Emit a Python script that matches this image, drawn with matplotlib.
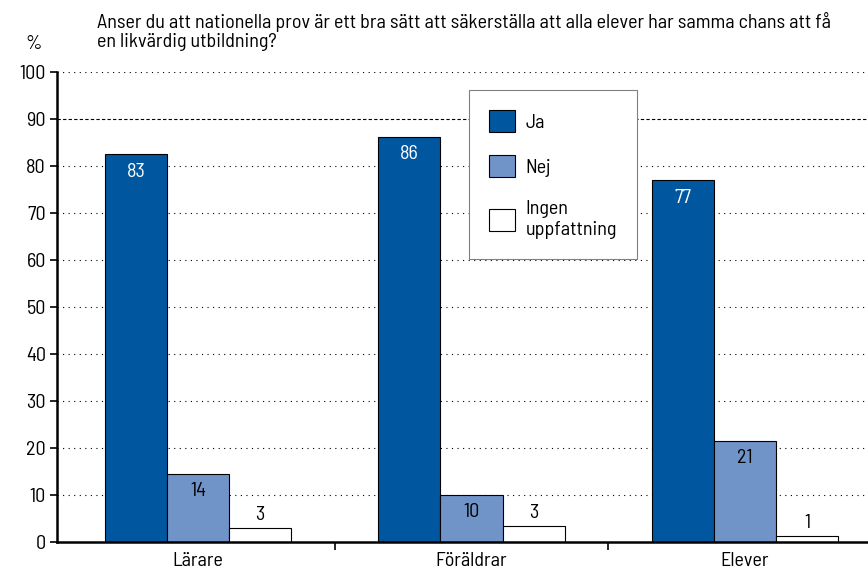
import matplotlib.pyplot as plt
import numpy as np
from matplotlib import font_manager as fm
from matplotlib.patches import Patch

# pick a narrow DIN-like face if one is installed
installed = {f.name for f in fm.fontManager.ttflist}
candidates = ["Barlow Semi Condensed", "Roboto Condensed", "PT Sans Narrow",
              "Archivo Narrow", "Liberation Sans Narrow"]
font = next((c for c in candidates if c in installed), "DejaVu Sans")
plt.rcParams["font.family"] = [font, "DejaVu Sans"]

groups = ["Lärare", "Föräldrar", "Elever"]
series = ["Ja", "Nej", "Ingen\nuppfattning"]
# bar heights as drawn, and the printed (rounded) labels
heights = {
    "Ja": [82.5, 86.2, 77.0],
    "Nej": [14.5, 10.0, 21.5],
    "Ingen\nuppfattning": [3.0, 3.4, 1.3],
}
labels = {
    "Ja": [83, 86, 77],
    "Nej": [14, 10, 21],
    "Ingen\nuppfattning": [3, 3, 1],
}
colors = ["#0057a0", "#7194c8", "#ffffff"]
title = ("Anser du att nationella prov är ett bra sätt att säkerställa att alla elever har samma chans att få\n"
         "en likvärdig utbildning?")
fs = 14.5

fig = plt.figure(figsize=(8.68, 5.68), dpi=100)
W, H = 868, 568
ax = fig.add_axes([57 / W, 26 / H, 811 / W, 470 / H])

x = np.arange(len(groups))
bw = 0.227
offsets = [-bw, 0, bw]

for yv in range(10, 101, 10):
    if yv == 90:
        ax.axhline(yv, color="black", lw=0.8, ls=(0, (3, 2)), zorder=0)
    else:
        ax.axhline(yv, color="black", lw=0.8, ls=(0, (1, 4)), zorder=0)

for i, s in enumerate(series):
    bars = ax.bar(x + offsets[i], heights[s], bw, color=colors[i],
                  edgecolor="black", lw=0.8, zorder=2)
    for b, lab in zip(bars, labels[s]):
        cx = b.get_x() + b.get_width() / 2
        top = b.get_height()
        if i == 0:
            ax.text(cx, top - 1.8, str(lab), ha="center", va="top",
                    color="white", fontsize=fs, zorder=3)
        elif i == 1:
            ax.text(cx, top - 1.8, str(lab), ha="center", va="top",
                    color="black", fontsize=fs, zorder=3)
        else:
            ax.text(cx, top + 0.8, str(lab), ha="center", va="bottom",
                    color="black", fontsize=fs, zorder=3)

ax.set_xlim(-0.5155, 2.4497)
ax.set_ylim(0, 100)
ax.set_yticks(range(0, 101, 10))
ax.tick_params(axis="y", direction="out", length=5, width=1.2, labelsize=fs, pad=3)
ax.set_xticks([0.5, 1.5])
ax.set_xticklabels([])
ax.set_xticks(x, minor=True)
ax.set_xticklabels(groups, minor=True, fontsize=fs)
ax.tick_params(axis="x", which="major", direction="out", length=6, width=1.2)
ax.tick_params(axis="x", which="minor", length=0, pad=7)

for side in ["top", "right"]:
    ax.spines[side].set_visible(False)
ax.spines["left"].set_linewidth(1.8)
ax.spines["bottom"].set_linewidth(1.8)

handles = [Patch(facecolor=c, edgecolor="black", lw=0.8) for c in colors]
leg = ax.legend(handles, series, loc="upper left",
                bbox_to_anchor=((469 - 57) / 811, (542 - 90) / 470),
                borderaxespad=0, fontsize=fs, frameon=True, fancybox=False,
                edgecolor="#808080", framealpha=1, handlelength=1.3,
                handleheight=1.3, labelspacing=1.15, borderpad=1.0,
                handletextpad=0.5)
leg.get_frame().set_linewidth(0.8)
leg.set_zorder(5)

fig.text(97 / W, 1 - 12 / H, title, ha="left", va="top", fontsize=fs, linespacing=1.05)
fig.text(34 / W, 1 - 35 / H, "%", ha="center", va="top", fontsize=fs)

fig.savefig("out.png", dpi=100)
